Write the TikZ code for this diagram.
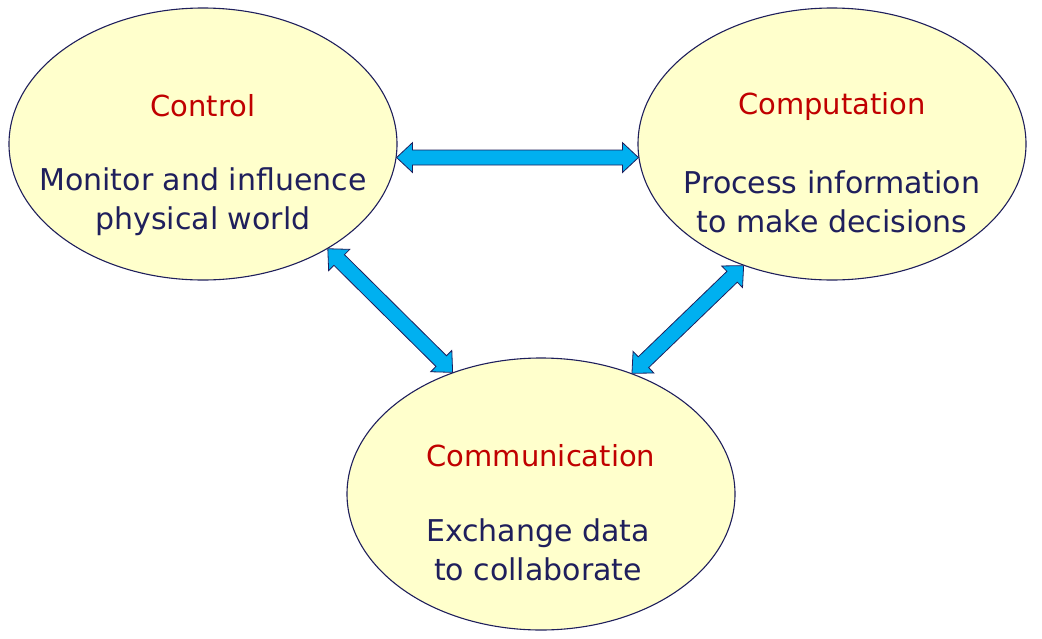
\documentclass[tikz,border=0pt]{standalone}
\usepackage{fontspec}
\setmainfont{DejaVu Sans}
\usetikzlibrary{shapes.geometric,calc}
\definecolor{ellfill}{HTML}{FFFFCC}
\definecolor{navy}{HTML}{1F1F5C}
\definecolor{titlered}{HTML}{C00000}
\definecolor{arrowblue}{HTML}{00B0F0}
\newcommand\hl{16pt}
\newcommand\hw{15pt}
\newcommand\sw{7.5pt}
\newcommand\biarrow[2]{%
  \draw[bigarrow] (#1)
   -- ($($(#1)!\hl!(#2)$)!\hw!90:(#2)$)
   -- ($($(#1)!\hl!(#2)$)!\sw!90:(#2)$)
   -- ($($(#2)!\hl!(#1)$)!\sw!-90:(#1)$)
   -- ($($(#2)!\hl!(#1)$)!\hw!-90:(#1)$)
   -- (#2)
   -- ($($(#2)!\hl!(#1)$)!\hw!90:(#1)$)
   -- ($($(#2)!\hl!(#1)$)!\sw!90:(#1)$)
   -- ($($(#1)!\hl!(#2)$)!\sw!-90:(#2)$)
   -- ($($(#1)!\hl!(#2)$)!\hw!-90:(#2)$)
   -- cycle;}
\begin{document}
\begin{tikzpicture}[x=1pt,y=-1pt,
  bubble/.style={ellipse, draw=navy, line width=1.1pt, fill=ellfill,
    minimum width=388pt, minimum height=272pt, inner sep=0pt},
  title/.style={text=titlered, font=\fontsize{29}{36}\selectfont},
  body/.style={text=navy, align=center, font=\fontsize{30}{39}\selectfont},
  bigarrow/.style={fill=arrowblue, draw=navy, line width=0.8pt, line join=miter}]
\useasboundingbox (0,0) rectangle (1042,638);
\node[bubble] (ctrl) at (203,144) {};
\node[bubble] (comp) at (832,144) {};
\node[bubble] (comm) at (541,494) {};
\node[title] (ctrlT) at (203,106) {Control};
\node[body] (ctrlB) at (203,202) {Monitor and influence\\physical world};
\node[title] (compT) at (832,106) {Computation};
\node[body] (compB) at (832,202) {Process information\\to make decisions};
\node[title] (commT) at (541,456) {Communication};
\node[body] (commB) at (538,550) {Exchange data\\to collaborate};
\coordinate (a1) at (ctrl.-4.2);
\coordinate (a2) at (comp.184.2);
\coordinate (b1) at (ctrl.-40.6);
\coordinate (b2) at (comm.126);
\coordinate (c1) at (comp.-126.6);
\coordinate (c2) at (comm.53);
\biarrow{a1}{a2}
\biarrow{b1}{b2}
\biarrow{c1}{c2}
\end{tikzpicture}
\end{document}
